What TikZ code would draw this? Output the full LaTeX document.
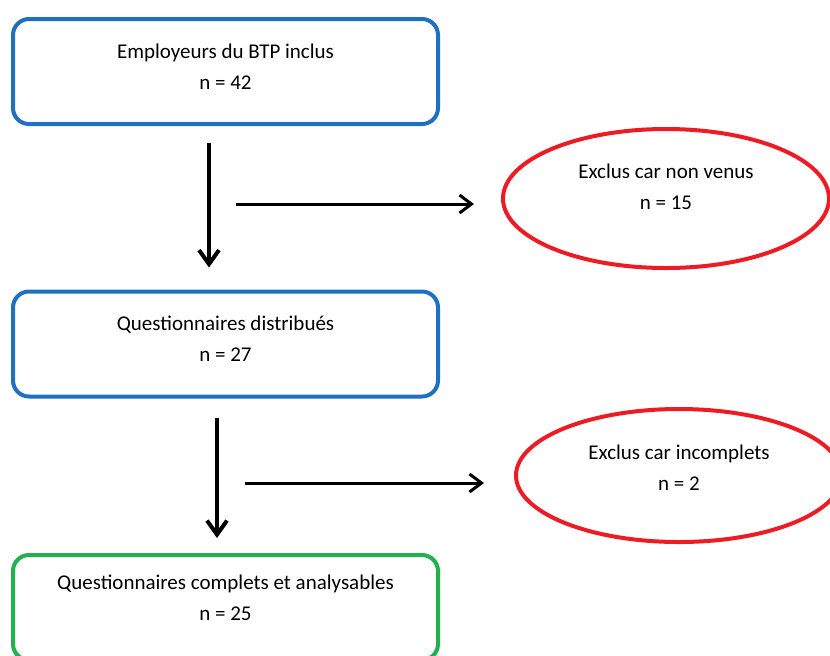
\documentclass[tikz,border=0pt]{standalone}
\usepackage{fontspec}
\setmainfont{Carlito}
\usetikzlibrary{arrows.meta,shapes.geometric}
\definecolor{boxblue}{RGB}{31,112,193}
\definecolor{exred}{RGB}{237,28,36}
\definecolor{okgreen}{RGB}{34,177,76}
\newcommand{\bas}[1]{\rule[-#1]{0pt}{#1}}
\tikzset{
  etape/.style={draw=#1, line width=2pt, rounded corners=8pt,
    minimum width=212.5pt, minimum height=52.5pt, align=center,
    font=\fontsize{10.5}{15.5}\selectfont},
  exclu/.style={ellipse, draw=exred, line width=2pt, inner sep=0pt,
    minimum width=163pt, minimum height=69.5pt, align=center,
    font=\fontsize{10.5}{15.5}\selectfont},
  fleche/.style={line width=2pt, -{Straight Barb[length=7pt,width=10pt]}},
  flechex/.style={line width=1.5pt, -{Straight Barb[length=6pt,width=9pt]}}
}
\begin{document}
\begin{tikzpicture}[x=0.5pt,y=-0.5pt]
		%%%%% START %%%%%
		\useasboundingbox (0,0) rectangle (830,655);
		\clip (0,0) rectangle (830,655);
		
		\node[etape=boxblue] (inclus) at (225.5,71.5) {Employeurs du BTP inclus\\n = 42\bas{5pt}};
		\node[exclu] (nonvenus) at (666,198.5) {Exclus car non venus\\n = 15\bas{12pt}};
		\node[etape=boxblue] (distrib) at (225.5,344) {Questionnaires distribués\\n = 27\bas{5pt}};
		\node[exclu, minimum height=66.5pt] (incomplets) at (679,475.5) {Exclus car incomplets\\n = 2\bas{8pt}};
		\node[etape=okgreen] (complets) at (225.5,607.5) {Questionnaires complets et analysables\\n = 25\bas{10pt}};
		
		\coordinate (d1) at (236,204);
		\coordinate (d2) at (245,483);
		
		\draw[fleche] ([xshift=-8.25pt,yshift=-8.5pt]inclus.south) -- ([xshift=-8.25pt,yshift=11pt]distrib.north);
		\draw[flechex, shorten >=13.5pt] (d1) -- (d1 -| nonvenus.west);
		
		\draw[fleche] ([xshift=-4.25pt,yshift=-9.5pt]distrib.south) -- ([xshift=-4.25pt,yshift=7.5pt]complets.north);
		\draw[flechex, shorten >=15pt] (d2) -- (d2 -| incomplets.west);
		
		%%%%% END %%%%%
\end{tikzpicture}
\end{document}
